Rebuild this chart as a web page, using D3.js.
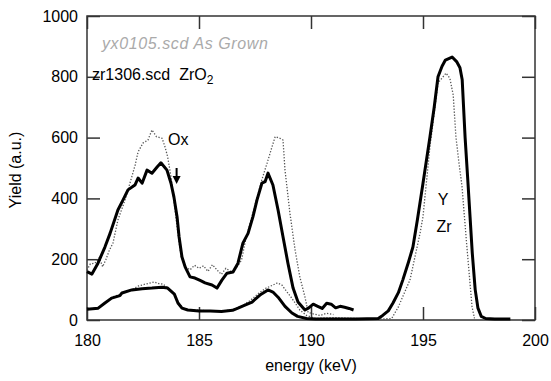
<!DOCTYPE html>
<html>
<head>
<meta charset="utf-8">
<script src="https://cdn.jsdelivr.net/npm/d3@7"></script>
<style>
  body { margin: 0; background: #fff; }
  svg text { font-family: "Liberation Sans", Arial, sans-serif; }
</style>
</head>
<body>
<svg id="chart"></svg>
<script>
// axis ticks
var xTicks = [180, 185, 190, 195, 200];
var yTicks = [0, 200, 400, 600, 800, 1000];

// zr1306.scd ZrO2, random (thick, upper curve)
var zrRandE = [180.0, 180.22, 180.49, 180.8, 181.03, 181.38, 181.61, 181.83, 182.14, 182.28, 182.46, 182.68, 182.9, 183.13, 183.3, 183.57, 183.75, 183.88, 184.02, 184.11, 184.24, 184.38, 184.6, 184.82, 185.05, 185.27, 185.58, 185.8, 186.03, 186.25, 186.52, 186.74, 186.96, 187.19, 187.41, 187.59, 187.81, 187.95, 188.08, 188.3, 188.53, 188.75, 188.97, 189.2, 189.42, 189.73, 189.9, 190.1, 190.3, 190.5, 190.7, 190.9, 191.1, 191.3, 191.5, 191.7, 191.9];
var zrRandY = [159, 151, 187, 240, 285, 362, 395, 428, 444, 467, 450, 493, 483, 503, 517, 493, 450, 405, 340, 274, 207, 175, 142, 138, 130, 122, 115, 105, 132, 154, 158, 187, 253, 285, 340, 395, 450, 455, 483, 444, 362, 274, 187, 105, 59, 33, 40, 52, 45, 38, 55, 52, 40, 45, 42, 38, 33];

// yx0105.scd As Grown, random (dotted, upper curve)
var yxRandE = [180.0, 180.15, 180.36, 180.55, 180.7, 180.85, 181.0, 181.16, 181.38, 181.7, 182.0, 182.15, 182.28, 182.5, 182.72, 182.9, 183.1, 183.35, 183.48, 183.6, 183.75, 183.9, 184.05, 184.2, 184.4, 184.6, 184.8, 185.0, 185.2, 185.4, 185.6, 185.8, 186.0, 186.2, 186.4, 186.6, 186.9, 187.05, 187.28, 187.6, 187.8, 188.04, 188.26, 188.4, 188.6, 188.75, 188.84, 189.06, 189.29, 189.5, 189.73, 189.87, 190.1, 190.4, 190.7, 191.0];
var yxRandY = [164, 185, 187, 205, 175, 200, 230, 253, 329, 395, 471, 510, 553, 582, 592, 625, 603, 598, 570, 537, 471, 380, 290, 210, 175, 165, 180, 170, 178, 160, 182, 165, 150, 170, 160, 164, 197, 253, 318, 405, 460, 516, 570, 603, 598, 592, 493, 351, 230, 142, 76, 25, 20, 15, 22, 18];

// zr1306.scd ZrO2, aligned (thick, lower curve + Y/Zr edge)
var zrAlignE = [180.0, 180.5, 180.8, 181.1, 181.47, 181.56, 182.0, 182.46, 182.9, 183.35, 183.6, 183.9, 184.06, 184.24, 184.5, 185.0, 185.5, 186.0, 186.5, 186.74, 187.05, 187.37, 187.72, 188.08, 188.3, 188.53, 188.84, 189.15, 189.4, 189.8, 190.2, 191.0, 192.0, 193.0, 193.2, 193.45, 193.66, 193.9, 194.1, 194.35, 194.55, 194.75, 195.0, 195.31, 195.5, 195.67, 195.85, 196.0, 196.3, 196.5, 196.65, 196.75, 196.88, 197.0, 197.1, 197.2, 197.33, 197.45, 197.6, 197.8, 198.2, 198.9];
var zrAlignY = [35, 39, 56, 72, 80, 89, 99, 103, 105, 108, 105, 85, 56, 39, 33, 30, 30, 28, 32, 39, 49, 59, 82, 99, 92, 75, 45, 23, 12, 5, 3, 3, 3, 5, 15, 30, 56, 90, 132, 190, 240, 330, 450, 602, 700, 800, 835, 855, 865, 850, 830, 790, 600, 460, 340, 220, 100, 40, 12, 5, 3, 3];

// yx0105.scd As Grown, aligned (dotted, lower curve + Y/Zr edge)
var yxAlignE = [180.0, 180.5, 180.8, 181.1, 181.5, 182.0, 182.3, 182.6, 183.0, 183.2, 183.4, 183.6, 183.9, 184.1, 184.3, 184.6, 185.0, 185.5, 186.0, 186.4, 186.7, 187.0, 187.3, 187.7, 188.0, 188.3, 188.5, 188.7, 188.9, 189.1, 189.3, 189.5, 189.8, 190.2, 191.0, 192.0, 193.0, 193.6, 193.9, 194.42, 194.87, 195.0, 195.31, 195.67, 196.03, 196.2, 196.35, 196.47, 196.6, 196.74, 196.96, 197.1, 197.19, 197.3];
var yxAlignY = [35, 40, 55, 75, 85, 100, 112, 118, 125, 120, 118, 105, 85, 55, 38, 33, 32, 30, 30, 32, 38, 50, 65, 90, 105, 115, 122, 115, 95, 76, 55, 33, 15, 5, 8, 5, 3, 5, 43, 132, 286, 340, 570, 780, 812, 795, 740, 602, 520, 440, 240, 120, 43, 5];

var width = 551, height = 381;
var margin = { top: 16, right: 16, bottom: 61, left: 87 };
var in_width = width - margin.left - margin.right;
var in_height = height - margin.top - margin.bottom;

var svg = d3.select('#chart')
    .attr('width', width)
    .attr('height', height);

var g = svg.append('g')
    .attr('transform', 'translate(' + margin.left + ',' + margin.top + ')');

var xScale = d3.scaleLinear().domain([180, 200]).range([0, in_width]);
var yScale = d3.scaleLinear().domain([0, 1000]).range([in_height, 0]);

var axisColor = '#333';
var fmt = d3.format('d');

// left axis, inward ticks
var yAxisGroup = g.append('g')
    .call(d3.axisLeft(yScale).tickValues(yTicks).tickFormat(fmt).tickSizeInner(-13).tickSizeOuter(0).tickPadding(9));
// bottom axis
var xAxisGroup = g.append('g')
    .attr('transform', 'translate(0,' + in_height + ')')
    .call(d3.axisBottom(xScale).tickValues(xTicks).tickFormat(fmt).tickSizeInner(-13).tickSizeOuter(0).tickPadding(15));
// top & right: ticks only
var topGroup = g.append('g')
    .call(d3.axisTop(xScale).tickValues(xTicks).tickSizeInner(-13).tickSizeOuter(0).tickFormat(''));
var rightGroup = g.append('g')
    .attr('transform', 'translate(' + in_width + ',0)')
    .call(d3.axisRight(yScale).tickValues(yTicks).tickSizeInner(-13).tickSizeOuter(0).tickFormat(''));

[yAxisGroup, xAxisGroup, topGroup, rightGroup].forEach(function (ax) {
    ax.select('.domain').remove();
    ax.selectAll('.tick line').attr('stroke', axisColor).attr('stroke-width', 1.5);
    ax.selectAll('.tick text').attr('fill', '#000').style('font-size', '16px');
});

// frame
g.append('rect')
    .attr('width', in_width)
    .attr('height', in_height)
    .attr('fill', 'none')
    .attr('stroke', axisColor)
    .attr('stroke-width', 1.5);

// curves
function makeLine(es, ys) {
    var pts = es.map(function (e, i) { return [e, ys[i]]; });
    return d3.line()
        .x(function (d) { return xScale(d[0]); })
        .y(function (d) { return yScale(d[1]); })(pts);
}

var dotted = [[yxRandE, yxRandY], [yxAlignE, yxAlignY]];
var solid = [[zrRandE, zrRandY], [zrAlignE, zrAlignY]];

dotted.forEach(function (s) {
    g.append('path')
        .attr('d', makeLine(s[0], s[1]))
        .attr('fill', 'none')
        .attr('stroke', '#555')
        .attr('stroke-width', 1.3)
        .attr('stroke-dasharray', '1.3,1.7');
});
solid.forEach(function (s) {
    g.append('path')
        .attr('d', makeLine(s[0], s[1]))
        .attr('fill', 'none')
        .attr('stroke', '#000')
        .attr('stroke-width', 3)
        .attr('stroke-linejoin', 'round');
});

// legend texts
g.append('text')
    .attr('x', 15).attr('y', 33)
    .attr('fill', '#aaa')
    .style('font-size', '16px')
    .style('font-style', 'italic')
    .style('letter-spacing', '0.6px')
    .text('yx0105.scd As Grown');

var lab = g.append('text')
    .attr('x', 5).attr('y', 64)
    .attr('fill', '#000')
    .style('font-size', '16px')
    .style('white-space', 'pre');
lab.append('tspan').text('zr1306.scd  ZrO');
lab.append('tspan').attr('dy', 4).style('font-size', '12px').text('2');

// annotations
g.append('text').attr('x', 81).attr('y', 129).style('font-size', '16px').text('Ox');
g.append('text').attr('x', 356).attr('y', 189).attr('text-anchor', 'middle').style('font-size', '16px').text('Y');
g.append('text').attr('x', 357).attr('y', 216).attr('text-anchor', 'middle').style('font-size', '16px').text('Zr');

// arrow below Ox
var ax = xScale(184.0);
g.append('line')
    .attr('x1', ax).attr('x2', ax)
    .attr('y1', 152).attr('y2', 162)
    .attr('stroke', '#000').attr('stroke-width', 2);
g.append('path')
    .attr('d', 'M' + (ax - 4) + ',160 L' + (ax + 4) + ',160 L' + ax + ',168 Z')
    .attr('fill', '#000');

// axis titles
svg.append('text')
    .attr('x', margin.left + in_width / 2)
    .attr('y', 371)
    .attr('text-anchor', 'middle')
    .style('font-size', '16px')
    .text('energy (keV)');

svg.append('text')
    .attr('transform', 'translate(21,' + 170 + ') rotate(-90)')
    .attr('text-anchor', 'middle')
    .style('font-size', '16px')
    .text('Yield (a.u.)');
</script>
</body>
</html>
